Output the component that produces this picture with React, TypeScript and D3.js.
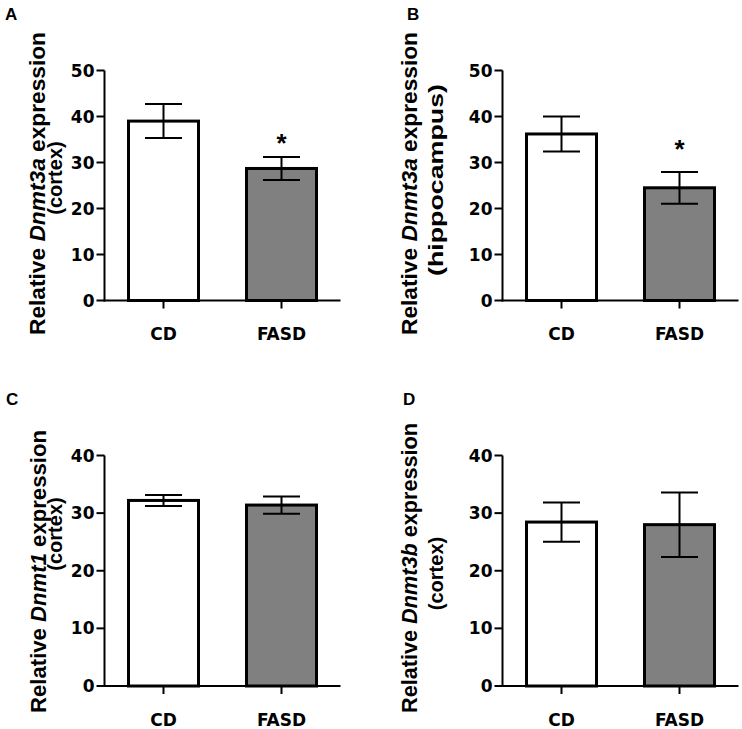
import React from "react";
import * as d3 from "d3";

// ---- Data ----
const groups = ["CD", "FASD"];
const panelIds = ["A", "B", "C", "D"];
const geneNames = ["Dnmt3a", "Dnmt3a", "Dnmt1", "Dnmt3b"];
const regionNames = ["(cortex)", "(hippocampus)", "(cortex)", "(cortex)"];
const meansA = [39.0, 28.7];
const semA = [3.7, 2.5];
const meansB = [36.2, 24.5];
const semB = [3.8, 3.45];
const meansC = [32.2, 31.4];
const semC = [0.95, 1.5];
const meansD = [28.45, 28.0];
const semD = [3.4, 5.6];
const yMaxes = [50, 50, 40, 40];
const yTicksAB = [0, 10, 20, 30, 40, 50];
const yTicksCD = [0, 10, 20, 30, 40];
const sigA = [null, 35.5];
const sigB = [null, 34.3];
const sigC = [null, null];
const sigD = [null, null];
const fills = ["#ffffff", "#808080"];

const FONT = "'Liberation Sans', Arial, Helvetica, sans-serif";
const TICKFONT = "'DejaVu Sans', Verdana, sans-serif";

type Layout = {
  axisX: number;
  yTop: number;
  y0: number;
  letterX: number;
  letterY: number;
  l1x: number;
  l1cy: number;
  l1len: number;
  l2x: number;
  l2cy: number;
  l2fs: number;
  l2len: number | null;
};

const layouts: Layout[] = [
  { axisX: 104.5, yTop: 70.5, y0: 300.5, letterX: 5, letterY: 20, l1x: 45, l1cy: 183.5, l1len: 303, l2x: 62, l2cy: 178, l2fs: 20, l2len: null },
  { axisX: 502.5, yTop: 70.5, y0: 300.5, letterX: 407, letterY: 20, l1x: 417, l1cy: 183.5, l1len: 303, l2x: 443, l2cy: 180, l2fs: 21, l2len: 192 },
  { axisX: 104.5, yTop: 455.5, y0: 686, letterX: 6, letterY: 405, l1x: 45.5, l1cy: 571.5, l1len: 283, l2x: 62, l2cy: 534, l2fs: 20, l2len: null },
  { axisX: 502.5, yTop: 455.5, y0: 686, letterX: 403, letterY: 405, l1x: 417, l1cy: 568, l1len: 290, l2x: 443, l2cy: 573.5, l2fs: 20, l2len: null },
];

const meansAll = [meansA, meansB, meansC, meansD];
const semAll = [semA, semB, semC, semD];
const sigAll = [sigA, sigB, sigC, sigD];
const ticksAll = [yTicksAB, yTicksAB, yTicksCD, yTicksCD];

function Panel({ i }: { i: number }) {
  const L = layouts[i];
  const means = meansAll[i];
  const sems = semAll[i];
  const sig = sigAll[i];
  const y = d3.scaleLinear().domain([0, yMaxes[i]]).range([L.y0, L.yTop]);
  const x = d3.scalePoint<string>().domain(groups).range([L.axisX, L.axisX + 236]).padding(0.5);
  const barW = 70;
  const capHalf = 18.5;
  const tickFs = 17;
  const l2Props: any = L.l2len != null ? { textLength: L.l2len, lengthAdjust: "spacingAndGlyphs" } : {};
  return (
    <g>
      <text x={L.letterX} y={L.letterY} fontFamily={FONT} fontWeight="bold" fontSize={17}>
        {panelIds[i]}
      </text>
      {/* y label */}
      <g transform={`translate(${L.l1x},${L.l1cy}) rotate(-90)`}>
        <text
          textAnchor="middle"
          fontFamily={FONT}
          fontWeight="bold"
          fontSize={22}
          textLength={L.l1len}
          lengthAdjust="spacingAndGlyphs"
        >
          <tspan>Relative </tspan>
          <tspan fontStyle="italic">{geneNames[i]}</tspan>
          <tspan> expression</tspan>
        </text>
      </g>
      <g transform={`translate(${L.l2x},${L.l2cy}) rotate(-90)`}>
        <text textAnchor="middle" fontFamily={FONT} fontWeight="bold" fontSize={L.l2fs} {...l2Props}>
          {regionNames[i]}
        </text>
      </g>
      {/* bars */}
      {groups.map((g, k) => (
        <rect
          key={g}
          x={(x(g) as number) - barW / 2}
          y={y(means[k])}
          width={barW}
          height={L.y0 - y(means[k])}
          fill={fills[k]}
          stroke="#000"
          strokeWidth={3}
        />
      ))}
      {/* error bars */}
      {groups.map((g, k) => {
        const cx = x(g) as number;
        const hi = y(means[k] + sems[k]);
        const lo = y(means[k] - sems[k]);
        return (
          <g key={g} stroke="#000" strokeWidth={2}>
            <line x1={cx} x2={cx} y1={hi} y2={lo} />
            <line x1={cx - capHalf} x2={cx + capHalf} y1={hi} y2={hi} />
            <line x1={cx - capHalf} x2={cx + capHalf} y1={lo} y2={lo} />
          </g>
        );
      })}
      {/* significance */}
      {groups.map((g, k) =>
        sig[k] != null ? (
          <text
            key={g}
            x={x(g) as number}
            y={y(sig[k] as number) + 0.57 * 26}
            textAnchor="middle"
            fontFamily={FONT}
            fontWeight="bold"
            fontSize={26}
          >
            *
          </text>
        ) : null
      )}
      {/* y axis */}
      <line x1={L.axisX} x2={L.axisX} y1={L.yTop} y2={L.y0 + 1} stroke="#000" strokeWidth={2} />
      {ticksAll[i].map((t) => (
        <g key={t}>
          <line x1={L.axisX - 8} x2={L.axisX} y1={y(t)} y2={y(t)} stroke="#000" strokeWidth={2} />
          <text
            x={L.axisX - 10}
            y={y(t)}
            dy="0.36em"
            textAnchor="end"
            fontFamily={TICKFONT}
            fontWeight="bold"
            fontSize={tickFs}
          >
            {t}
          </text>
        </g>
      ))}
      {/* x axis */}
      <line x1={L.axisX - 1} x2={L.axisX + 236} y1={L.y0} y2={L.y0} stroke="#000" strokeWidth={2} />
      {groups.map((g) => (
        <g key={g}>
          <line x1={x(g) as number} x2={x(g) as number} y1={L.y0} y2={L.y0 + 8} stroke="#000" strokeWidth={2} />
          <text
            x={x(g) as number}
            y={L.y0 + 39.5}
            textAnchor="middle"
            fontFamily={TICKFONT}
            fontWeight="bold"
            fontSize={tickFs}
          >
            {g}
          </text>
        </g>
      ))}
    </g>
  );
}

export default function App() {
  return (
    <svg
      width={742}
      height={729}
      style={{ position: "absolute", left: 0, top: 0, background: "#fff" }}
    >
      <rect width={742} height={729} fill="#fff" />
      {panelIds.map((_, i) => (
        <Panel key={i} i={i} />
      ))}
    </svg>
  );
}
